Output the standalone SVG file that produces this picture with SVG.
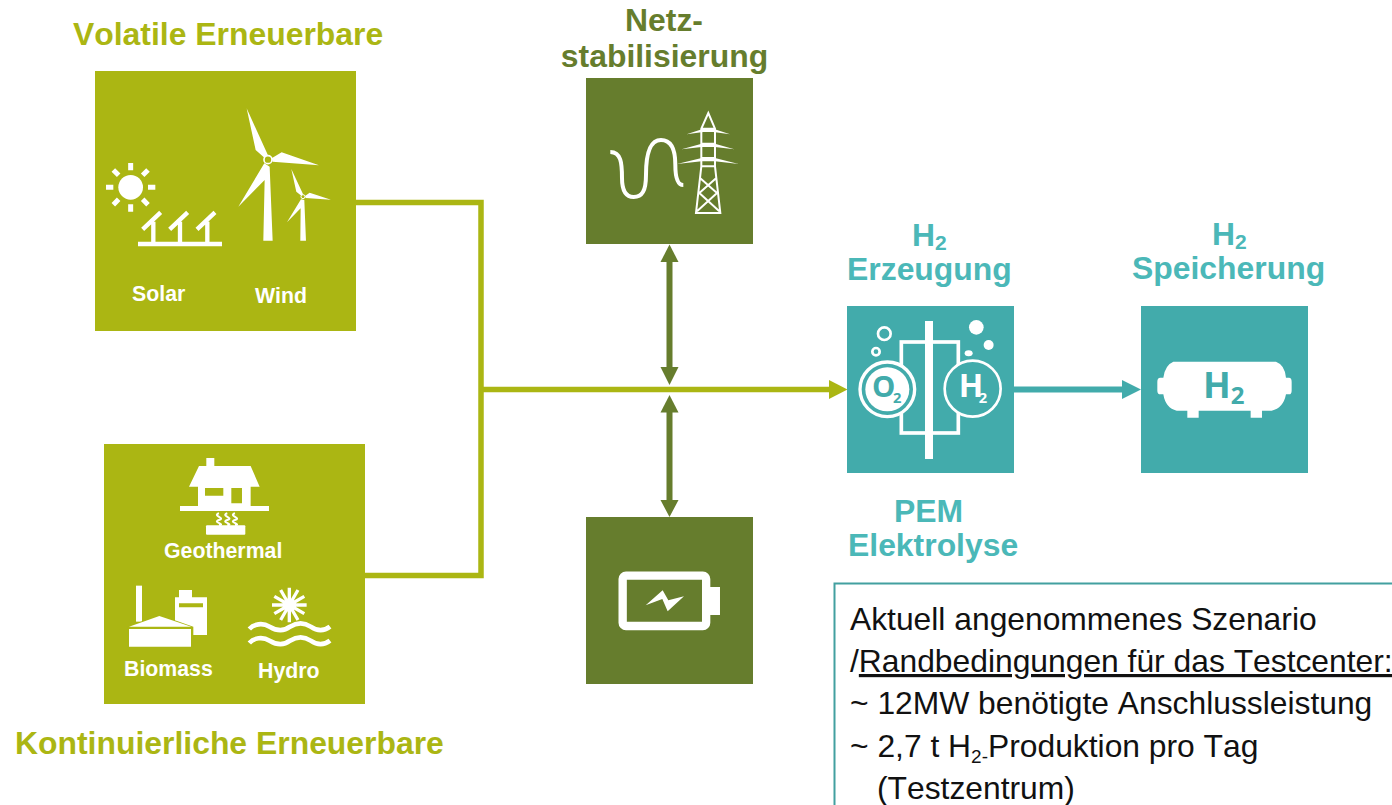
<svg xmlns="http://www.w3.org/2000/svg" width="1392" height="805" viewBox="0 0 1392 805">
<style>
text{font-family:"Liberation Sans",Arial,sans-serif;font-kerning:none}
.h{font-size:31.9px;font-weight:700}
.lime{fill:#abb613}.dk{fill:#667d2d}.teal{fill:#42abab}
.tl{fill:#4bb8b8}.dg{fill:#667d2d}
.lb{font-size:21.3px;font-weight:700;fill:#fff}
.w{fill:#fff}
.ws{fill:none;stroke:#fff}
.b{font-size:31.8px;fill:#111}
.ic{font-family:"Open Sans",sans-serif;font-weight:700}
</style>
<rect width="1392" height="805" fill="#fff"/>
<g id="connectors">
<path d="M356 202.500H481V575.500H365M481 389.500H832" fill="none" stroke="#abb613" stroke-width="5.500"/>
<polygon points="829,380 847.500,389.500 829,399" fill="#abb613"/>
<path d="M1014 389.500H1125" fill="none" stroke="#42abab" stroke-width="6"/>
<polygon points="1122,380 1141,389.500 1122,399" fill="#42abab"/>
<path d="M669.500 260V369M669.500 410V502" fill="none" stroke="#667d2d" stroke-width="6"/>
<polygon points="669.500,244.500 660.500,262 678.500,262" fill="#667d2d"/>
<polygon points="669.500,385 660.500,367 678.500,367" fill="#667d2d"/>
<polygon points="669.500,395 660.500,412.500 678.500,412.500" fill="#667d2d"/>
<polygon points="669.500,517 660.500,500 678.500,500" fill="#667d2d"/>
</g>
<g id="volatile">
<text class="h lime" x="73" y="45">Volatile Erneuerbare</text>
<rect class="lime" x="95" y="71" width="261" height="260"/>
<g transform="translate(95 90) scale(.3333)">
<circle class="w" cx="107" cy="292" r="37"/>
<path class="ws" stroke-width="15" d="M107 219V241M107 343V365M33 292H55M159 292H181M55 240L71 256M143 328L159 344M159 240L143 256M71 328L55 344"/>
<path class="ws" stroke-width="13" d="M129 462H381M175 462V395M255 462V395M337 462V395M143 418L197 367M224 418L278 367M306 418L360 367"/>
<path class="w" d="M455 55L482 180L510 205L519 196ZM672 226L560 187L530 205L533 215ZM430 350L509 270L505 452H533L524 230L508 220Z"/>
<circle cx="519" cy="209" r="12" fill="#abb613" stroke="#fff" stroke-width="5"/>
<path class="w" d="M589 237L604 305L620 318L624 312ZM708 329L644 308L630 318L632 324ZM576 397L617 355L616 452H633L628 330L618 328Z"/>
<circle cx="624" cy="320" r="6" fill="#abb613" stroke="#fff" stroke-width="3"/>
</g>
<text class="lb" x="132" y="301">Solar</text>
<text class="lb" x="255" y="303">Wind</text>
</g>
<g id="kontinuierlich">
<rect class="lime" x="104" y="444" width="261" height="260"/>
<g transform="translate(104 444) scale(.3333)">
<path class="w" fill-rule="evenodd" d="M307 42H331V66H440L467 128H440V186H495V201H228V186H282V128H255L285 66H307ZM303 132V155H358V132ZM382 132V178H414V132Z"/>
<rect class="w" x="306" y="244" width="118" height="28" rx="3"/>
<path class="ws" stroke-width="6" d="M345 208C323 215 367 222 345 228C323 235 367 240 345 244M370 208C348 215 392 222 370 228C348 235 392 240 370 244M393 208C371 215 415 222 393 228C371 235 415 240 393 244"/>
<rect class="w" x="96" y="425" width="18" height="108"/>
<path class="w" fill-rule="evenodd" d="M225 438H264V460H309V573H213V460H225ZM225 478V490H297V478Z"/>
<path d="M70 548L166 512L268 548V612H70Z" fill="#abb613"/>
<path class="w" d="M75 548L166 516L262 548ZM75 555H261V608H75Z"/>
<circle class="w" cx="556" cy="483" r="17"/>
<path class="ws" stroke-width="10" d="M556 483V431M556 483L582 438M556 483L601 457M556 483H608M556 483L601 509M556 483L582 528M556 483V535M556 483L530 528M556 483L511 509M556 483H504M556 483L511 457M556 483L530 438"/>
<path class="ws" stroke-width="14" d="M436 555C450 540 475 535 497 548C520 562 540 562 558 548C580 535 600 535 620 548C640 562 660 562 678 548M436 597C450 582 475 577 497 590C520 604 540 604 558 590C580 577 600 577 620 590C640 604 660 604 678 590"/>
</g>
<text class="lb" x="164" y="558">Geothermal</text>
<text class="lb" x="124" y="676">Biomass</text>
<text class="lb" x="258" y="678">Hydro</text>
<text class="h lime" x="15" y="754">Kontinuierliche Erneuerbare</text>
</g>
<g id="netz">
<text class="h dg" x="664" y="31" text-anchor="middle">Netz-</text>
<text class="h dg" x="664.500" y="67" text-anchor="middle">stabilisierung</text>
<rect class="dk" x="586" y="78" width="167" height="166"/>
<g transform="translate(586 78) scale(.3333)">
<path class="ws" stroke-width="12" d="M73 222C105 222 108 255 108 300C108 340 120 357 143 357C168 357 180 340 180 290C180 220 195 186 225 186C255 186 268 215 268 260C268 300 275 321 292 321"/>
<path class="ws" stroke-width="6" d="M367 105L346 152V265L330 405H403L387 265V152ZM346 152H387M346 265H387M346 197H387M346 240H387M342 300L393 345L333 400M391 300L340 345L400 400"/>
<path class="w" d="M302 169L352 152H382L432 169L382 162H352ZM287 214L347 197H387L445 214L387 207H347ZM273 258L347 240H387L458 258L387 250H347Z"/>
</g>
</g>
<g id="batterie">
<rect class="dk" x="586" y="517" width="167" height="167"/>
<g transform="translate(600 540) scale(.3333)">
<rect class="ws" x="68" y="107" width="250.500" height="151" rx="10" stroke-width="25"/>
<rect class="w" x="325" y="141" width="35" height="84"/>
<polygon class="w" points="137,196 188,151 205,181 252,169 203,214 187,177"/>
</g>
</g>
<g id="erzeugung">
<text class="h tl" x="912" y="246">H<tspan font-size="21" dy="4">2</tspan></text>
<text class="h tl" x="847" y="280">Erzeugung</text>
<rect class="teal" x="847" y="306" width="167" height="167"/>
<g transform="translate(840 300) scale(.3333)">
<rect class="ws" x="184" y="126" width="171" height="273" stroke-width="11"/>
<rect class="w" x="255" y="63" width="24" height="414"/>
<circle cx="142" cy="268" r="82" fill="#42abab" stroke="#fff" stroke-width="10"/>
<circle class="w" cx="142" cy="268" r="66"/>
<circle cx="398" cy="266" r="84" fill="#42abab" stroke="#fff" stroke-width="8"/>
<text class="ic" x="96" y="292" font-size="88" fill="#42abab">O<tspan font-size="44" dx="-7" dy="16">2</tspan></text>
<text class="ic" x="356" y="292" font-size="96" fill="#fff">H<tspan font-size="44" dx="-13" dy="18">2</tspan></text>
<circle class="ws" cx="133" cy="101" r="19" stroke-width="8"/>
<circle class="ws" cx="108" cy="155" r="11" stroke-width="8"/>
<circle class="w" cx="409" cy="82" r="22"/>
<circle class="w" cx="446" cy="135" r="15"/>
<ellipse class="w" cx="386" cy="160" rx="12" ry="9"/>
</g>
</g>
<g id="speicherung">
<text class="h tl" x="1212" y="245">H<tspan font-size="21" dy="4">2</tspan></text>
<text class="h tl" x="1132" y="279">Speicherung</text>
<rect class="teal" x="1141" y="306" width="167" height="167"/>
<g transform="translate(1135 340) scale(.3333)">
<path class="w" d="M115 65H423Q450 75 453 113H462Q470 113 470 125V152Q470 163 462 163H453Q445 205 410 212H381V233H347V212H191V233H157V212H125Q92 205 85 163H76Q67 163 67 152V125Q67 113 76 113H85Q90 75 115 65Z"/>
<text class="ic" x="204" y="175" font-size="109" fill="#42abab">H<tspan font-size="72" dy="17">2</tspan></text>
</g>
</g>
<g id="pem">
<text class="h tl" x="894" y="522">PEM</text>
<text class="h tl" x="848" y="556">Elektrolyse</text>
</g>
<g id="szenario">
<path d="M834.500 805V583.500H1392" fill="none" stroke="#42a0a0" stroke-width="2"/>
<text class="b" x="850" y="630">Aktuell angenommenes Szenario</text>
<text class="b" x="850" y="672">/<tspan text-decoration="underline">Randbedingungen für das Testcenter:</tspan></text>
<text class="b" x="850" y="714">~ 12MW benötigte Anschlussleistung</text>
<text class="b" x="850" y="757">~ 2,7 t H<tspan font-size="19" dy="6">2-</tspan><tspan dy="-6">Produktion pro Tag</tspan></text>
<text class="b" x="877" y="799">(Testzentrum)</text>
</g>
</svg>
